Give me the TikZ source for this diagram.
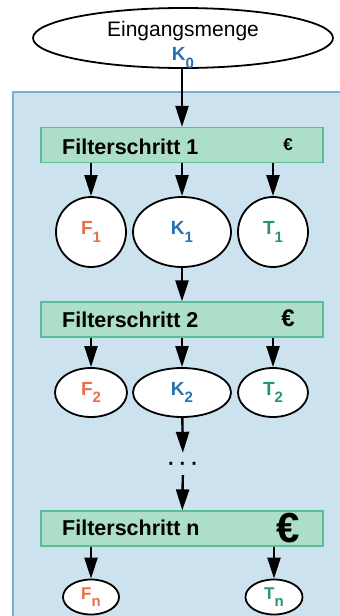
\documentclass[tikz,border=0pt]{standalone}
\usepackage{fontspec}
\setmainfont{Liberation Sans}
\usetikzlibrary{arrows.meta,shapes.geometric}

\definecolor{bgblau}{RGB}{204,226,238}
\definecolor{bgrand}{RGB}{125,175,214}
\definecolor{boxgruen}{RGB}{172,222,202}
\definecolor{boxrand}{RGB}{88,190,150}
\definecolor{frot}{RGB}{232,112,72}
\definecolor{kblau}{RGB}{40,112,176}
\definecolor{tgruen}{RGB}{38,150,112}

\newcommand{\idx}[1]{\raisebox{-0.4em}{\fontsize{15}{15}\selectfont #1}}

\begin{document}
\begin{tikzpicture}[x=1pt,y=-1pt,
		menge/.style={ellipse,draw,line width=1.8pt,fill=white,inner sep=0pt,font=\fontsize{19}{22}\selectfont\bfseries},
		filter/.style={rectangle,draw=boxrand,line width=1.2pt,fill=boxgruen,minimum width=282pt,minimum height=35pt},
		titel/.style={anchor=west,inner sep=0pt,font=\fontsize{21.5}{24}\selectfont\bfseries},
		pfeil/.style={line width=2.4pt,-{Triangle[length=21pt,width=13pt]}}]
				\useasboundingbox (0,0) rectangle (340,616);
				\fill[bgblau] (13,92) rectangle (340,616);
				\draw[bgrand,line width=1.5pt] (13,616) -- (13,92) -- (340,92);
			
				\node[menge,minimum width=300pt,minimum height=60pt] (K0) at (183,38) {};
				\node[align=center,inner sep=0pt,font=\fontsize{21}{24}\selectfont] (K0t) at (183,45)
					{Eingangsmenge\\{\fontsize{19}{19}\selectfont\bfseries\color{kblau}K\idx{0}}};
			
				\begin{scope}[every node/.style={filter}]
					\node (S1) at (182,145) {};
					\node (S2) at (182,319.5) {};
					\node (Sn) at (182,528.5) {};
				\end{scope}
			
				\begin{scope}[every node/.style={titel}]
					\node (S1t) at (62,147) {Filterschritt 1};
					\node (S2t) at (62,320) {Filterschritt 2};
					\node (Snt) at (62,528) {Filterschritt n};
				\end{scope}
			
				\begin{scope}[every node/.style={inner sep=0pt}]
					\node[font=\fontsize{17}{17}\selectfont\bfseries] (E1) at (288,145) {€};
					\node[font=\fontsize{24}{24}\selectfont\bfseries] (E2) at (288,318) {€};
					\node[font=\fontsize{42}{42}\selectfont\bfseries] (En) at (288,528) {€};
				\end{scope}
			
				\begin{scope}[every node/.style={menge}]
					\node[minimum width=70pt,minimum height=70pt] (F1) at (91,232) {\color{frot}F\idx{1}};
					\node[minimum width=98pt,minimum height=70pt] (K1) at (182,232) {\color{kblau}K\idx{1}};
					\node[minimum width=70pt,minimum height=70pt] (T1) at (273,232) {\color{tgruen}T\idx{1}};
					\node[minimum width=72pt,minimum height=49pt] (F2) at (91,392.5) {\color{frot}F\idx{2}};
					\node[minimum width=98pt,minimum height=49pt] (K2) at (182,392.5) {\color{kblau}K\idx{2}};
					\node[minimum width=70pt,minimum height=49pt] (T2) at (273,392.5) {\color{tgruen}T\idx{2}};
					\node[minimum width=56pt,minimum height=35pt,font=\fontsize{17}{20}\selectfont\bfseries] (Fn) at (91,597) {\color{frot}F\idx{n}};
					\node[minimum width=57pt,minimum height=35pt,font=\fontsize{17}{20}\selectfont\bfseries] (Tn) at (274,597) {\color{tgruen}T\idx{n}};
				\end{scope}
			
				\node[inner sep=0pt,minimum height=22pt,text height=12pt,text depth=0pt,font=\fontsize{20}{20}\selectfont\bfseries] (punkte) at (183,464) {·\hspace{5pt}·\hspace{5pt}·};
			
				\begin{scope}[pfeil]
					\draw (K0.south -| S1) -- (S1);
					\draw (S1.south -| F1) -- (F1);
					\draw (S1.south -| K1) -- (K1);
					\draw (S1.south -| T1) -- (T1);
					\draw (K1) -- (S2);
					\draw (S2.south -| F2) -- (F2);
					\draw (S2.south -| K2) -- (K2);
					\draw (S2.south -| T2) -- (T2);
					\draw (K2) -- (punkte);
					\draw (punkte) -- (Sn);
					\draw (Sn.south -| Fn) -- (Fn);
					\draw (Sn.south -| Tn) -- (Tn);
				\end{scope}
			\end{tikzpicture}
\end{document}
